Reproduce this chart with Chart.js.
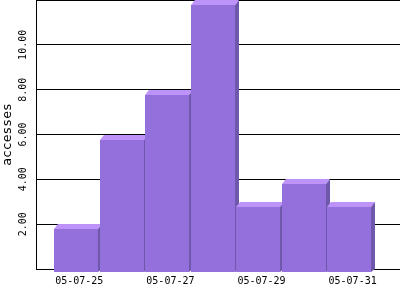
<!DOCTYPE html>
<html><head><meta charset="utf-8">
<script src="https://cdn.jsdelivr.net/npm/chart.js@4.4.0/dist/chart.umd.min.js"></script>
<style>html,body{margin:0;padding:0;background:#fff;overflow:hidden;}</style>
</head><body>
<canvas id="c" width="400" height="300" style="display:block;width:400px;height:300px"></canvas>
<script>
const categories = ['05-07-25','05-07-26','05-07-27','05-07-28','05-07-29','05-07-30','05-07-31'];
const accesses = [2, 6, 8, 12, 3, 4, 3];
const yTickLabels = {2:'2.00', 4:'4.00', 6:'6.00', 8:'8.00', 10:'10.00'};
const xTickLabels = ['05-07-25','','05-07-27','','05-07-29','','05-07-31'];

const X_START = -0.9506, X_RANGE = 7.991;
const DX = 4, DY = 5;
const FRONT = '#9370DB', TOP = '#BD93F9', SIDE = '#6F58AC';

const bar3d = {
  id: 'bar3d',
  beforeDatasetDraw(chart, args) {
    const ctx = chart.ctx;
    ctx.save();
    args.meta.data.forEach(el => {
      const p = el.getProps(['x','y','base','width'], true);
      const L = Math.round(p.x - p.width / 2 - 3.3);
      const R = L + Math.round(p.width);
      const T = Math.round(p.y);
      const B = Math.round(p.base);
      // front
      ctx.fillStyle = FRONT;
      ctx.fillRect(L, T + DY, R - L, B + 3 - (T + DY));
      // top
      ctx.fillStyle = TOP;
      ctx.beginPath();
      ctx.moveTo(L, T + DY); ctx.lineTo(L + DX, T); ctx.lineTo(R + DX, T); ctx.lineTo(R, T + DY);
      ctx.closePath(); ctx.fill();
      // side
      ctx.fillStyle = SIDE;
      ctx.beginPath();
      ctx.moveTo(R, T + DY); ctx.lineTo(R + DX, T); ctx.lineTo(R + DX, B); ctx.lineTo(R, B + 3);
      ctx.closePath(); ctx.fill();
    });
    ctx.restore();
    return false;
  }
};

new Chart(document.getElementById('c'), {
  type: 'bar',
  data: {
    labels: categories,
    datasets: [{ label: 'accesses', data: accesses, backgroundColor: FRONT, barThickness: 44 }]
  },
  plugins: [bar3d],
  options: {
    responsive: false,
    devicePixelRatio: 1,
    animation: false,
    layout: { padding: 0 },
    plugins: { legend: { display: false }, tooltip: { enabled: false } },
    scales: {
      x: {
        type: 'category',
        grid: { display: false, drawTicks: false },
        border: { display: true, color: '#000', width: 1 },
        ticks: {
          autoSkip: false, minRotation: 0, maxRotation: 0, padding: 6, color: '#000',
          font: { family: 'DejaVu Sans Mono', size: 10 },
          callback: (v, i) => xTickLabels[i]
        },
        afterBuildTicks: s => { s._startValue = X_START; s._valueRange = X_RANGE; },
        afterFit: s => { s.height = 31; s.paddingLeft = 0; s.paddingRight = 0; }
      },
      y: {
        min: 0, max: 12,
        grid: { color: '#000', lineWidth: 1, drawTicks: false },
        border: { display: true, color: '#000', width: 1 },
        ticks: {
          stepSize: 1, padding: -2, crossAlign: 'center', minRotation: 90, maxRotation: 90,
          color: '#000', font: { family: 'DejaVu Sans Mono', size: 10 },
          callback: v => yTickLabels[v] || ''
        },
        title: { display: true, text: 'accesses', color: '#000', padding: 0,
          font: { family: 'DejaVu Sans Mono', size: 13 } },
        afterFit: s => { s.width = 36; s.paddingTop = 0; s.paddingBottom = 0; }
      }
    }
  }
});
</script>
</body></html>
